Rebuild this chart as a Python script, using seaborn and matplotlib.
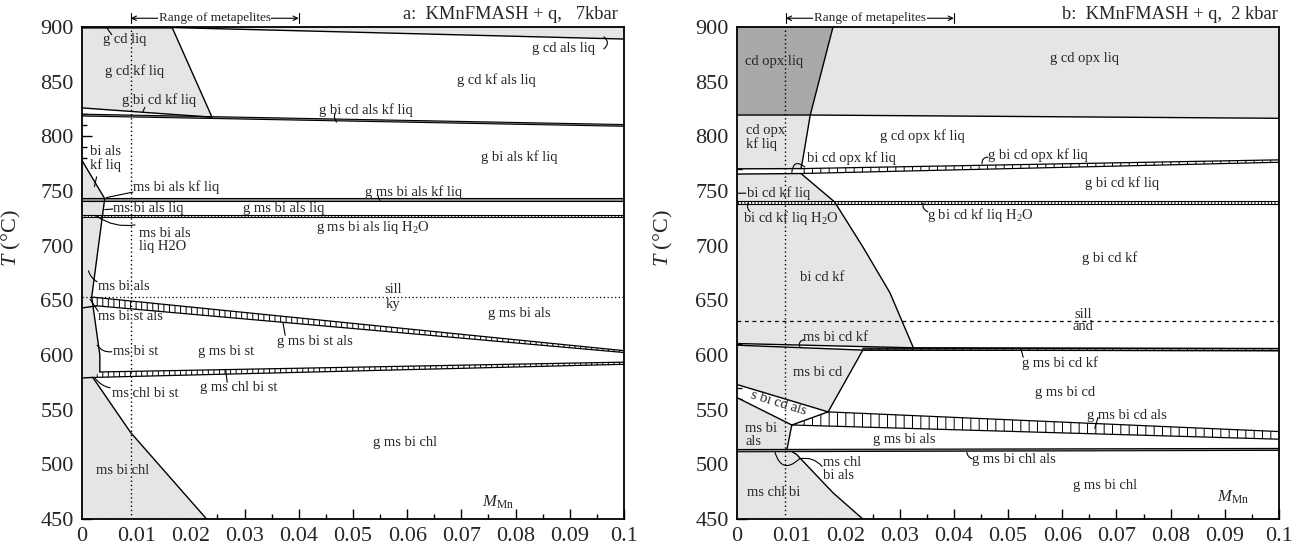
import matplotlib
matplotlib.use("Agg")
import matplotlib.pyplot as plt
import seaborn as sns

sns.set_style("ticks")
plt.rcParams['font.family'] = ['Liberation Serif', 'DejaVu Serif']
plt.rcParams['mathtext.fontset'] = 'custom'
plt.rcParams['mathtext.rm'] = 'Liberation Serif'
plt.rcParams['mathtext.it'] = 'Liberation Serif:italic'
plt.rcParams['hatch.linewidth'] = 0.7
plt.rcParams['axes.edgecolor'] = 'black'
plt.rcParams['patch.edgecolor'] = 'black'

# === axis values ===
x_ticks = [0, 0.01, 0.02, 0.03, 0.04, 0.05, 0.06, 0.07, 0.08, 0.09, 0.1]
x_tick_labels = ['0', '0.01', '0.02', '0.03', '0.04', '0.05', '0.06', '0.07', '0.08', '0.09', '0.1']
t_ticks = [450, 500, 550, 600, 650, 700, 750, 800, 850, 900]
metapelite_range = [0.009, 0.040]

# === panel a: 7 kbar (M_Mn, T) ===
a_grey_top_x = [0, 0.0166, 0.024, 0]
a_grey_top_T = [900, 900, 817.5, 826]
a_grey_left_x = [0, 0.0042, 0.0018, 0.0033, 0.0033, 0.002, 0.009, 0.023, 0]
a_grey_left_T = [778, 743, 653, 600, 584.5, 579.5, 529, 450, 450]
a_grey_liq_x = [0.0166, 0.1, 0.1, 0.0166]
a_grey_liq_T = [900, 900, 889, 899.5]
a_gcdliq_x = [0, 0.0166, 0.0166, 0]
a_gcdliq_T = [900, 900, 898, 898]

a_lines = [
    ([0.0166, 0.1], [899.5, 889]),
    ([0.0166, 0.024], [900, 817.5]),
    ([0, 0.024], [826, 817.5]),
    ([0, 0.0042], [778, 743]),
    ([0.0042, 0.0018, 0.0033, 0.0033], [743, 653, 600, 584.5]),
    ([0, 0.0027], [643, 645]),
    ([0, 0.002], [579, 579.5]),
    ([0.002, 0.009, 0.023], [579.5, 529, 450]),
]
# thin dark bands: x, top T, bottom T
a_thin_bands = [
    ([0, 0.1], [820.3, 810.8], [818.6, 809.2]),
    ([0, 0.1], [743.2, 743.2], [741.2, 741.2]),
]
a_dot_bands = [
    ([0, 0.1], [728.4, 728.4], [726.0, 726.0]),
]
# hatched polygons
a_hatch_x = [[0.0018, 0.1, 0.1, 0.0027], [0.0033, 0.1, 0.1, 0.002]]
a_hatch_T = [[653, 604, 602.3, 645], [584.5, 593.5, 591.5, 579.5]]
a_ref_T = 653    # sill / ky

a_labels = [
    ("g cd liq", 0.0039, 889), ("g cd kf liq", 0.0042, 860),
    ("g bi cd kf liq", 0.0073, 833), ("g cd als liq", 0.083, 880),
    ("g cd kf als liq", 0.0692, 851), ("g bi cd als kf liq", 0.0438, 824),
    ("bi als\nkf liq", 0.0015, 779.5), ("g bi als kf liq", 0.0736, 781),
    ("ms bi als kf liq", 0.0094, 754), ("g ms bi als kf liq", 0.0522, 749),
    ("ms bi als liq", 0.0057, 734), ("g ms bi als liq", 0.0298, 734),
    ("ms bi als\nliq H2O", 0.0106, 705.5), ("g ms bi als liq H$_2$O", 0.0432, 717),
    ("ms bi als", 0.003, 663), ("ms bi st als", 0.003, 635),
    ("g ms bi als", 0.075, 638), ("g ms bi st als", 0.036, 612),
    ("ms bi st", 0.0058, 603), ("g ms bi st", 0.0215, 603),
    ("ms chl bi st", 0.0055, 565), ("g ms chl bi st", 0.0218, 570),
    ("g ms bi chl", 0.0537, 520), ("ms bi chl", 0.0026, 494),
]
a_ref_labels = [("sill", 0.0574, 659.5), ("ky", 0.0574, 646)]
a_leaders = [
    ((0.0046, 899), (0.0055, 893), 0.0), ((0.0116, 826.5), (0.0112, 822), 0.0),
    ((0.0467, 821), (0.0470, 813), 0.3), ((0.0963, 891), (0.0963, 880), -0.6),
    ((0.0027, 763), (0.0023, 754), 0.0), ((0.0045, 744), (0.0094, 749), 0.0),
    ((0.0042, 733), (0.0057, 733.5), 0.0), ((0.0027, 727), (0.0098, 719), 0.2),
    ((0.0547, 745), (0.0550, 741.5), 0.3), ((0.0012, 677), (0.0028, 667), 0.2),
    ((0.0015, 651), (0.0030, 640), 0.0), ((0.0028, 609), (0.0055, 603), 0.3),
    ((0.0371, 629), (0.0375, 618), 0.0), ((0.0024, 579), (0.0052, 570), 0.2),
    ((0.0265, 587), (0.0268, 575), 0.0),
]

# === panel b: 2 kbar ===
b_dark_x = [0, 0.0177, 0.0135, 0]
b_dark_T = [900, 900, 819.5, 819.5]
b_grey_x = [
    [0.0177, 0.1, 0.1, 0.0135],
    [0, 0.0135, 0.0122, 0.0118, 0],
    [0, 0.0118, 0.018, 0.0232, 0.0282, 0.0325, 0],
    [0, 0.0232, 0.0168, 0],
    [0, 0.0101, 0.0092, 0],
    [0, 0.0102, 0.011, 0.0177, 0.0232, 0],
]
b_grey_T = [
    [900, 900, 816.5, 819.5],
    [819.5, 819.5, 781, 770.5, 770.5],
    [765.5, 766, 740, 699, 657, 607, 610.5],
    [609, 604.5, 548, 573],
    [561, 536, 513.5, 513.5],
    [511.5, 511.5, 509, 474, 450, 450],
]
b_lines = [
    ([0, 0.0135, 0.1], [819.5, 819.5, 816.5]),
    ([0.0177, 0.0135, 0.0122, 0.0118], [900, 819.5, 781, 770.5]),
    ([0, 0.0118], [770.3, 770.5]),
    ([0, 0.0118], [765.5, 766]),
    ([0.0118, 0.018, 0.0232, 0.0282, 0.0325], [766, 740, 699, 657, 607]),
    ([0, 0.0325, 0.1], [610.5, 606.6, 605.9]),
    ([0, 0.0232, 0.1], [609, 604.5, 604]),
    ([0.0232, 0.0168], [604.5, 548]),
    ([0, 0.0168], [573, 548]),
    ([0, 0.0101], [561, 536]),
    ([0.0101, 0.0168], [536, 548]),
    ([0.0101, 0.0092], [536, 513.5]),
    ([0.0102, 0.011, 0.0177, 0.0232], [511.5, 509, 474, 450]),
]
b_thin_bands = [
    ([0, 0.1], [513.6, 514.6], [511.5, 512.8]),
]
b_dot_bands = [
    ([0, 0.1], [740.6, 740.6], [738.2, 738.2]),
]
b_hatch_x = [[0.0118, 0.1, 0.1, 0.0118], [0.0232, 0.1, 0.1, 0.0232],
             [0.0168, 0.1, 0.1, 0.0101]]
b_hatch_T = [[770.5, 778.5, 776.3, 766], [606.2, 605.9, 604, 604.5],
             [548, 530, 523, 536]]
b_ref_T = 631.5   # sill / and

b_labels = [
    ("cd opx liq", 0.0015, 868), ("g cd opx liq", 0.0577, 871),
    ("cd opx\nkf liq", 0.0017, 799), ("g cd opx kf liq", 0.0264, 800),
    ("bi cd opx kf liq", 0.0129, 780), ("g bi cd opx kf liq", 0.0463, 783),
    ("g bi cd kf liq", 0.0642, 757), ("bi cd kf liq", 0.0018, 748),
    ("bi cd kf liq H$_2$O", 0.0011, 725), ("g bi cd kf liq H$_2$O", 0.035, 728),
    ("bi cd kf", 0.0116, 671), ("g bi cd kf", 0.0636, 689),
    ("ms bi cd kf", 0.0122, 616), ("g ms bi cd kf", 0.0526, 593),
    ("ms bi cd", 0.0103, 584), ("g ms bi cd", 0.055, 566),
    ("g ms bi cd als", 0.0646, 545), ("ms bi\nals", 0.0015, 527),
    ("g ms bi als", 0.0251, 523), ("ms chl\nbi als", 0.0159, 496),
    ("g ms bi chl als", 0.0433, 504), ("ms chl bi", 0.0018, 474),
    ("g ms bi chl", 0.062, 481),
]
b_ref_labels = [("sill", 0.0639, 637.5), ("and", 0.0639, 626)]
b_leaders = [
    ((0.0101, 767), (0.0125, 772), -0.9), ((0.0452, 775), (0.0463, 781), -0.5),
    ((0.0002, 748), (0.0016, 748), 0.0), ((0.0020, 739), (0.0024, 731), 0.3),
    ((0.0343, 739), (0.0352, 731), 0.4), ((0.0116, 607), (0.0124, 614), -0.6),
    ((0.0524, 605), (0.0528, 598), 0.0), ((0.0666, 543), (0.0660, 533), 0.0),
    ((0.0070, 511), (0.0115, 505), 0.8), ((0.0115, 505), (0.0157, 498), -0.3),
    ((0.0424, 511), (0.0434, 505), 0.3),
]

GREY = '#e5e5e5'
DARK = '#a9a9a9'
FS = 10.5


def draw_line(ax, xs, ts, **kw):
    sns.lineplot(x=xs, y=ts, ax=ax, sort=False, estimator=None,
                 color='black', linewidth=kw.pop('lw', 1.0), legend=False, **kw)


def band(ax, xs, top, bot, face, hatch=None):
    px = list(xs) + list(xs[::-1])
    pt = list(top) + list(bot[::-1])
    ax.fill(px, pt, facecolor=face, edgecolor='black', hatch=hatch, lw=0, zorder=3)
    draw_line(ax, xs, top, lw=0.8, zorder=4)
    draw_line(ax, xs, bot, lw=0.8, zorder=4)


def setup_axes(ax, title_text, title_x):
    ax.set_xlim(0, 0.1)
    ax.set_ylim(450, 900)
    ax.set_xticks(x_ticks)
    ax.set_xticklabels(x_tick_labels)
    ax.set_yticks(t_ticks)
    ax.set_xticks([v + 0.005 for v in x_ticks[:-1]], minor=True)
    ax.set_yticks(range(450, 901, 10), minor=True)
    ax.tick_params(which='both', direction='in', top=False, right=False,
                   labelsize=16, pad=6, width=1.0, color='black')
    ax.tick_params(which='major', length=7)
    ax.tick_params(which='minor', length=3.5)
    for s in ax.spines.values():
        s.set_linewidth(1.3)
        s.set_zorder(10)
    ax.set_xlabel('')
    ax.set_ylabel('$T$ (°C)', fontsize=16)
    ax.yaxis.set_label_coords(-0.108, 0.57)
    # range of metapelites
    r0, r1 = metapelite_range
    mid = (r0 + r1) / 2
    for end in (r0, r1):
        ax.annotate('', xy=(end, 908), xytext=(mid, 908), annotation_clip=False,
                    arrowprops=dict(arrowstyle='->', lw=0.8, mutation_scale=8,
                                    color='black', shrinkA=0, shrinkB=0))
        ax.plot([end, end], [903.5, 912.8], color='black', lw=0.8, clip_on=False)
    ax.text(mid, 908.5, 'Range of metapelites', fontsize=9.5, ha='center', va='center',
            bbox=dict(facecolor='white', edgecolor='none', pad=0.5), clip_on=False)
    fig.text(title_x, 0.973, title_text, fontsize=13.3, ha='right', va='center')


def put_labels(ax, labels, ref_labels, leaders, mmn_pos):
    for txt, x, t in labels:
        ax.text(x, t, txt, fontsize=FS, ha='left', va='center', linespacing=1.0, zorder=6)
    for txt, x, t in ref_labels:
        ax.text(x, t, txt, fontsize=FS, ha='center', va='center', zorder=6)
    for (x0, t0), (x1, t1), rad in leaders:
        ax.annotate('', xy=(x1, t1), xytext=(x0, t0),
                    arrowprops=dict(arrowstyle='-', lw=0.8, color='black', shrinkA=0, shrinkB=0,
                                    connectionstyle=f'arc3,rad={rad}'), zorder=6)
    ax.text(mmn_pos[0], mmn_pos[1], '$M_{\\mathrm{Mn}}$', fontsize=12, ha='left', va='center')


fig = plt.figure(figsize=(13.05, 5.49), dpi=100)
ax_a = fig.add_axes([0.0628, 0.0546, 0.4153, 0.8962])
ax_b = fig.add_axes([0.5648, 0.0546, 0.4153, 0.8962])

# --- panel a ---
ax = ax_a
ax.fill(a_grey_top_x, a_grey_top_T, color=GREY, lw=0, zorder=1)
ax.fill(a_grey_left_x, a_grey_left_T, color=GREY, lw=0, zorder=1)
ax.fill(a_grey_liq_x, a_grey_liq_T, color=GREY, lw=0, zorder=1)
ax.fill(a_gcdliq_x, a_gcdliq_T, color='#555555', lw=0, zorder=2)
for xs, ts in a_lines:
    draw_line(ax, xs, ts, zorder=4)
for xs, top, bot in a_thin_bands:
    band(ax, xs, top, bot, '#8a8a8a')
for xs, top, bot in a_dot_bands:
    band(ax, xs, top, bot, 'white', hatch='|||||')
for xs, ts in zip(a_hatch_x, a_hatch_T):
    ax.fill(xs, ts, facecolor='white', edgecolor='black', hatch='|||', lw=0, zorder=3)
    draw_line(ax, xs[:2], ts[:2], lw=0.9, zorder=4)
    draw_line(ax, xs[2:], ts[2:], lw=0.9, zorder=4)
ax.axhline(a_ref_T, color='black', ls=(0, (1, 2)), lw=0.9, zorder=2)
ax.axvline(metapelite_range[0], color='black', ls=(0, (1, 2)), lw=1.0, zorder=5)
put_labels(ax, a_labels, a_ref_labels, a_leaders, (0.0738, 465))
setup_axes(ax, 'a:  KMnFMASH + q,   7kbar', 618 / 1305)

# --- panel b ---
ax = ax_b
ax.fill(b_dark_x, b_dark_T, color=DARK, lw=0, zorder=1)
for xs, ts in zip(b_grey_x, b_grey_T):
    ax.fill(xs, ts, color=GREY, lw=0, zorder=1)
for xs, ts in b_lines:
    draw_line(ax, xs, ts, zorder=4)
for xs, top, bot in b_thin_bands:
    band(ax, xs, top, bot, '#8a8a8a')
for xs, top, bot in b_dot_bands:
    band(ax, xs, top, bot, 'white', hatch='|||||')
for xs, ts in zip(b_hatch_x, b_hatch_T):
    ax.fill(xs, ts, facecolor='white', edgecolor='black', hatch='||', lw=0, zorder=3)
    draw_line(ax, xs[:2], ts[:2], lw=0.9, zorder=4)
    draw_line(ax, xs[2:], ts[2:], lw=0.9, zorder=4)
ax.axhline(b_ref_T, color='black', ls=(0, (3, 3)), lw=0.9, zorder=2)
ax.axvline(metapelite_range[0] - 0.0001, color='black', ls=(0, (1, 2)), lw=1.0, zorder=5)
ax.text(0.0076, 556, 's bi cd als', fontsize=FS, ha='center', va='center', rotation=-17, zorder=6)
put_labels(ax, b_labels, b_ref_labels, b_leaders, (0.0886, 470))
setup_axes(ax, 'b:  KMnFMASH + q,  2 kbar', 1278 / 1305)
ax.yaxis.set_label_coords(-0.114, 0.57)

fig.savefig('out.png', dpi=100)
